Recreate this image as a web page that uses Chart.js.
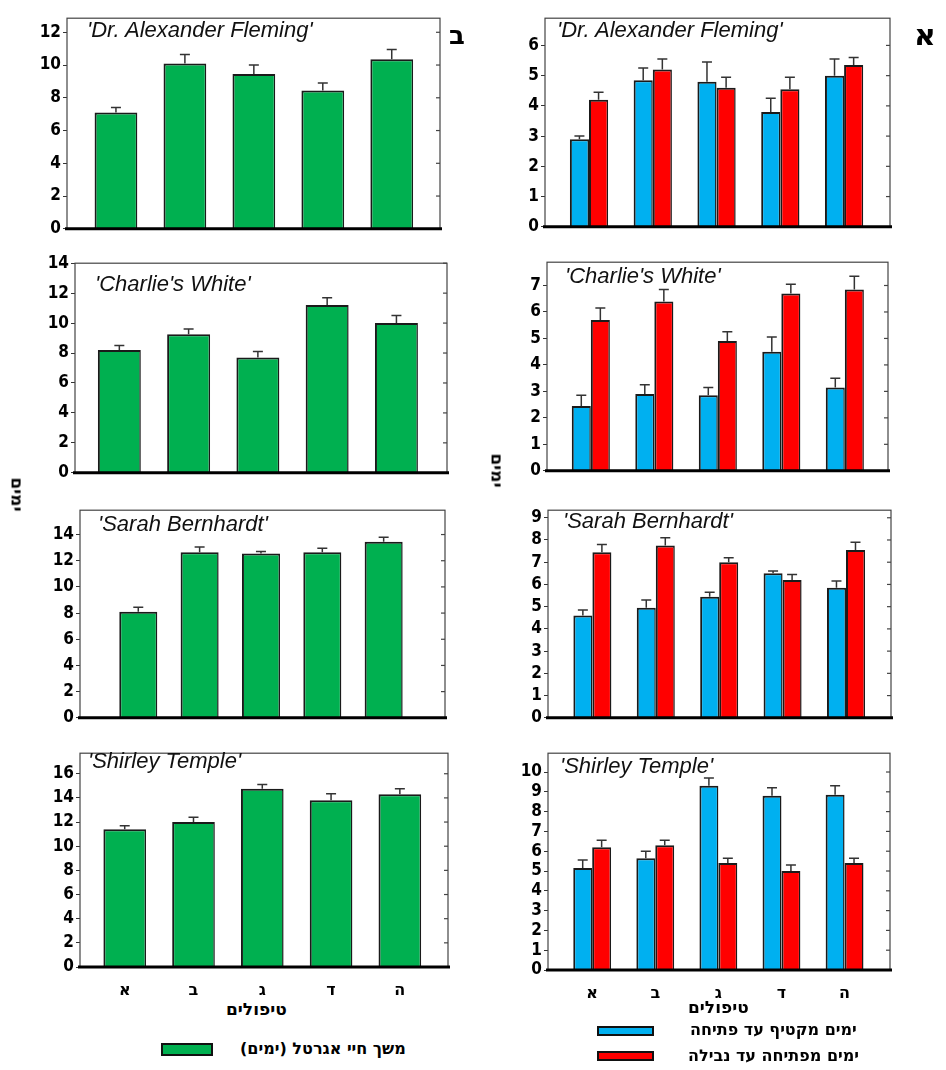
<!DOCTYPE html>
<html>
<head>
<meta charset="utf-8">
<script src="https://cdn.jsdelivr.net/npm/chart.js@4.4.1/dist/chart.umd.min.js"></script>
<style>
body{margin:0;background:#fff;width:946px;height:1070px;position:relative;overflow:hidden;font-family:'DejaVu Sans','Liberation Sans',Arial,sans-serif}
canvas{position:absolute}
.txt{position:absolute;font-weight:bold;color:#000;white-space:nowrap;line-height:1}
.ttl{position:absolute;font-family:'Liberation Sans',Arial,sans-serif;font-style:italic;font-size:22px;color:#111;white-space:nowrap;line-height:1}
.sw{position:absolute;border:2px solid #111;box-sizing:border-box}
</style>
</head>
<body>
<script>
//DATA
const treatments=['א','ב','ג','ד','ה'];

// left column (ב) - vase life in days
const flemingVase=[7.1,10.1,9.45,8.45,10.35];
const flemingVaseErr=[0.3,0.55,0.55,0.45,0.6];
const charlieVase=[8.2,9.25,7.7,11.2,10.0];
const charlieVaseErr=[0.3,0.35,0.4,0.5,0.5];
const sarahVase=[8.1,12.65,12.55,12.65,13.45];
const sarahVaseErr=[0.35,0.4,0.15,0.3,0.35];
const shirleyVase=[11.4,12.0,14.75,13.8,14.3];
const shirleyVaseErr=[0.3,0.4,0.35,0.55,0.45];

// right column (א) - days harvest->opening (blue) and opening->wilting (red)
const flemingOpen=[2.9,4.85,4.8,3.8,5.0];
const flemingOpenErr=[0.1,0.4,0.65,0.45,0.55];
const flemingWilt=[4.2,5.2,4.6,4.55,5.35];
const flemingWiltErr=[0.25,0.35,0.35,0.4,0.25];
const charlieOpen=[2.45,2.9,2.85,4.5,3.15];
const charlieOpenErr=[0.4,0.35,0.3,0.55,0.35];
const charlieWilt=[5.7,6.4,4.9,6.7,6.85];
const charlieWiltErr=[0.45,0.45,0.35,0.35,0.5];
const sarahOpen=[4.6,4.95,5.45,6.5,5.85];
const sarahOpenErr=[0.25,0.35,0.2,0.1,0.3];
const sarahWilt=[7.45,7.75,7.0,6.2,7.55];
const sarahWiltErr=[0.35,0.35,0.2,0.25,0.35];
const shirleyOpen=[5.15,5.65,9.3,8.8,8.85];
const shirleyOpenErr=[0.4,0.35,0.4,0.4,0.45];
const shirleyWilt=[6.2,6.3,5.4,5.0,5.4];
const shirleyWiltErr=[0.35,0.25,0.25,0.3,0.25];

const GREEN='#00b050',BLUE='#00b0f0',RED='#ff0000';

//PANELS (plot box: left, top, right, bottom)
const panels=[
  {box:[67,10,440,235],xr:[0.29,5.7],ymax:12.86,step:2,title:"'Dr. Alexander Fleming'",tp:[87,19],sets:[[flemingVase,flemingVaseErr,GREEN]]},
  {box:[75,255,447,479],xr:[0.36,5.73],ymax:14,step:2,title:"'Charlie's White'",tp:[95,273],sets:[[charlieVase,charlieVaseErr,GREEN]]},
  {box:[80,502,445,724],xr:[0.05,6.0],ymax:15.86,step:2,title:"'Sarah Bernhardt'",tp:[98,513],sets:[[sarahVase,sarahVaseErr,GREEN]]},
  {box:[80,745,448,967],xr:[0.35,5.7],ymax:17.7,step:2,title:"'Shirley Temple'",tp:[88,750],sets:[[shirleyVase,shirleyVaseErr,GREEN]],bottom:true},
  {box:[545,10,890,233],xr:[0.31,5.72],ymax:6.9,step:1,title:"'Dr. Alexander Fleming'",tp:[557,19],sets:[[flemingOpen,flemingOpenErr,BLUE],[flemingWilt,flemingWiltErr,RED]]},
  {box:[547,254,888,477],xr:[0.31,5.68],ymax:7.88,step:1,title:"'Charlie's White'",tp:[565,265],sets:[[charlieOpen,charlieOpenErr,BLUE],[charlieWilt,charlieWiltErr,RED]]},
  {box:[548,502,891,724],xr:[0.3,5.71],ymax:9.34,step:1,title:"'Sarah Bernhardt'",tp:[563,510],sets:[[sarahOpen,sarahOpenErr,BLUE],[sarahWilt,sarahWiltErr,RED]]},
  {box:[548,745,890,970],xr:[0.3,5.72],ymax:10.95,step:1,title:"'Shirley Temple'",tp:[560,755],sets:[[shirleyOpen,shirleyOpenErr,BLUE],[shirleyWilt,shirleyWiltErr,RED]],bottom:true}
];

//PLUGINS
const errorBars={
  id:'errorBars',
  afterDatasetsDraw(chart){
    const ctx=chart.ctx,y=chart.scales.y;
    chart.data.datasets.forEach((ds,di)=>{
      chart.getDatasetMeta(di).data.forEach((bar,i)=>{
        const top=y.getPixelForValue(ds.data[i].y+ds.errors[i]);
        ctx.save();
        ctx.strokeStyle='#333';ctx.lineWidth=1.5;
        ctx.beginPath();
        ctx.moveTo(bar.x,bar.y);ctx.lineTo(bar.x,top);
        ctx.moveTo(bar.x-5,top);ctx.lineTo(bar.x+5,top);
        ctx.stroke();ctx.restore();
      });
    });
  }
};
const frame={
  id:'frame',
  afterDraw(chart){
    const ctx=chart.ctx,a=chart.chartArea,y=chart.scales.y;
    ctx.save();
    ctx.strokeStyle='#444';ctx.lineWidth=1.2;
    ctx.strokeRect(a.left,a.top,a.right-a.left,a.bottom-a.top);
    y.ticks.forEach(t=>{
      const py=y.getPixelForValue(t.value);
      ctx.beginPath();ctx.moveTo(a.right,py);ctx.lineTo(a.right-4,py);ctx.stroke();
    });
    ctx.strokeStyle='#000';ctx.lineWidth=3;
    ctx.beginPath();ctx.moveTo(a.left-2,a.bottom);ctx.lineTo(a.right+2,a.bottom);ctx.stroke();
    ctx.restore();
  }
};

const tickFont={family:"'Liberation Sans Narrow','DejaVu Sans Condensed',Arial,sans-serif",size:17,weight:'bold'};

panels.forEach(p=>{
  const [l,t,r,b]=p.box;
  const cv=document.createElement('canvas');
  const w=r-l+56, h=b-t+4+(p.bottom?32:6);
  cv.width=w;cv.height=h;
  cv.style.left=(l-50)+'px';cv.style.top=(t-4)+'px';
  document.body.appendChild(cv);
  const two=p.sets.length>1;
  const xAxis={type:'linear',min:p.xr[0],max:p.xr[1],offset:false,display:!!p.bottom,
    grid:{display:false},border:{display:false},
    afterBuildTicks:ax=>{ax.ticks=treatments.map((c,i)=>({value:i+1}));},
    ticks:{padding:6,autoSkip:false,maxRotation:0,color:'#000',font:{family:"'DejaVu Sans',sans-serif",size:16,weight:'bold'},
      callback:v=>treatments[v-1]||''}};
  if(p.bottom)xAxis.afterFit=ax=>{ax.height=32;};
  new Chart(cv.getContext('2d'),{
    type:'bar',
    data:{datasets:p.sets.map(s=>({
      data:s[0].map((v,i)=>({x:i+1,y:v})),
      errors:s[1],
      backgroundColor:s[2],
      borderColor:'#1a1a1a',
      borderWidth:{top:2,left:2,right:1.5,bottom:0},
      borderSkipped:'bottom',
      categoryPercentage:two?0.6:1,
      barPercentage:two?1:0.62
    }))},
    options:{
      responsive:false,animation:false,
      layout:{padding:{left:0,top:4,right:6,bottom:p.bottom?0:6}},
      plugins:{legend:{display:false},tooltip:{enabled:false}},
      scales:{
        x:xAxis,
        y:{min:0,max:p.ymax,
          afterFit:ax=>{ax.width=50;},
          grid:{drawOnChartArea:false,drawTicks:true,tickLength:4,color:'#333'},
          border:{display:false},
          ticks:{stepSize:p.step,includeBounds:false,autoSkip:false,padding:2,color:'#000',font:tickFont}}
      }
    },
    plugins:[errorBars,frame]
  });
  const tt=document.createElement('div');
  tt.className='ttl';tt.textContent=p.title;
  tt.style.left=p.tp[0]+'px';tt.style.top=p.tp[1]+'px';
  document.body.appendChild(tt);
});

//TEXTS
function addText(s,x,y,size,extra){
  const d=document.createElement('div');
  d.className='txt';d.textContent=s;d.dir='rtl';
  d.style.fontSize=size+'px';
  d.style.left=x+'px';d.style.top=y+'px';
  if(extra)Object.assign(d.style,extra);
  document.body.appendChild(d);
}
addText('ב',449,22,26);
addText('א',914,20,30);
addText('ימים',0,486,17,{transform:'rotate(90deg)'});
addText('ימים',480,462,17,{transform:'rotate(90deg)'});
addText('טיפולים',226,1001,17);
addText('טיפולים',688,999,17);
addText('משך חיי אגרטל (ימים)',240,1041,16);
addText('ימים מקטיף עד פתיחה',690,1022,16);
addText('ימים מפתיחה עד נבילה',688,1048,16);

function swatch(x,y,w,h,c){
  const d=document.createElement('div');d.className='sw';
  Object.assign(d.style,{left:x+'px',top:y+'px',width:w+'px',height:h+'px',background:c});
  document.body.appendChild(d);
}
swatch(161,1043,52,13,GREEN);
swatch(597,1026,57,10,BLUE);
swatch(597,1051,57,10,RED);
</script>
</body>
</html>
